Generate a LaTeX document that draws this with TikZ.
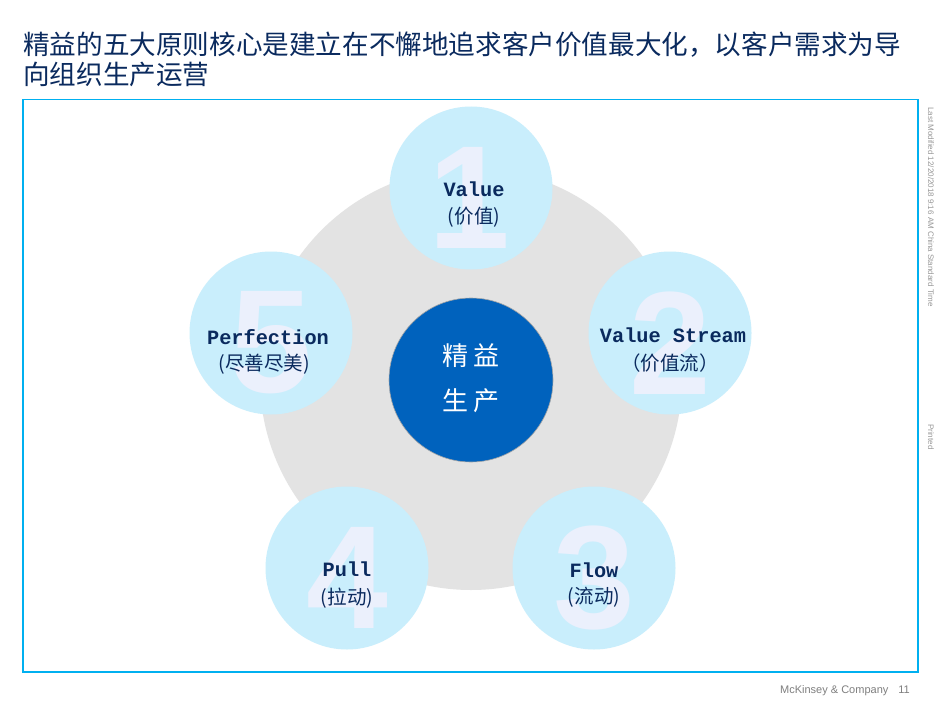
\documentclass[tikz,border=0pt]{standalone}
\usepackage{fontspec}
\setmainfont{Liberation Sans}
\newfontfamily\cjk{Noto Sans CJK SC}
\newfontfamily\monob{Liberation Mono}
\definecolor{navy}{HTML}{0A2A5E}
\definecolor{framecyan}{HTML}{00B0F0}
\definecolor{lightcyan}{HTML}{C9EEFC}
\definecolor{digitcol}{HTML}{EBF0FC}
\definecolor{bggray}{HTML}{E3E3E3}
\definecolor{coreblue}{HTML}{0062BD}
\definecolor{footgray}{HTML}{7F7F7F}
\begin{document}
\begin{tikzpicture}[x=1pt,y=-1pt,
  outer/.style={circle,fill=lightcyan,minimum size=163pt,inner sep=0pt},
  digit/.style={text=digitcol,inner sep=0pt,font=\bfseries\fontsize{147}{147}\selectfont},
  latin/.style={text=navy,inner sep=0pt,anchor=base,font=\monob\bfseries\fontsize{20.3}{24}\selectfont},
  chin/.style={text=navy,inner sep=0pt,anchor=base,font=\cjk\fontsize{19.5}{24}\selectfont},
  titletext/.style={text=navy,inner sep=0pt,anchor=base west,font=\cjk\fontsize{26.6}{30}\selectfont},
  coretext/.style={text=white,inner sep=0pt,anchor=base,font=\cjk\fontsize{26}{30}\selectfont},
  sidetext/.style={text=footgray!80,inner sep=0pt,anchor=west,rotate=-90,font=\fontsize{8}{9}\selectfont}]
\useasboundingbox (0,0) rectangle (941,706);
\fill[white] (0,0) rectangle (941,706);
% title
\node[titletext] (t1) at (23,55) {精益的五大原则核心是建立在不懈地追求客户价值最大化，以客户需求为导};
\node[titletext] (t2) at (23,85) {向组织生产运营};
% frame
\draw[framecyan,line width=1.6pt] (23,99.5) rectangle (918,672);
% gray background circle
\node[circle,fill=bggray,minimum size=422pt,inner sep=0pt] (bg) at (471,379) {};
% outer circles
\node[outer] (c1) at (471,188) {};
\node[outer] (c2) at (670,333) {};
\node[outer] (c3) at (594,568) {};
\node[outer] (c4) at (347,568) {};
\node[outer] (c5) at (271,333) {};
% digits
\node[digit] (d1) at (469,198) {1};
\node[digit] (d2) at (670,343) {2};
\node[digit] (d3) at (594,578) {3};
\node[digit] (d4) at (347,578) {4};
\node[digit] (d5) at (271,343) {5};
% labels
\node[latin] (l1) at (474,196) {Value};
\node[chin]  (k1) at (474,223) {(价值)};
\node[latin] (l2) at (673,342) {Value Stream};
\node[chin]  (k2) at (670,370) {（价值流）};
\node[latin] (l3) at (594,577) {Flow};
\node[chin]  (k3) at (594,603) {(流动)};
\node[latin] (l4) at (347,576) {Pull};
\node[chin]  (k4) at (347,604) {(拉动)};
\node[latin] (l5) at (268,344) {Perfection};
\node[chin]  (k5) at (264,370) {(尽善尽美)};
% core
\node[circle,fill=coreblue,draw=gray!70,line width=0.6pt,minimum size=164pt,inner sep=0pt] (core) at (471,380) {};
\node[coretext] (m1) at (471,365) {精\hspace{6pt}益};
\node[coretext] (m2) at (471,410) {生\hspace{6pt}产};
% footer and side notes
\node[text=footgray,inner sep=0pt,anchor=base east,font=\fontsize{11}{13}\selectfont] (foot) at (910,693) {McKinsey \& Company\hspace{10pt}11};
\node[sidetext] (s1) at (931,107) {Last Modified 12/20/2018 9:16 AM China Standard Time};
\node[sidetext] (s2) at (931,424) {Printed};
\end{tikzpicture}
\end{document}
